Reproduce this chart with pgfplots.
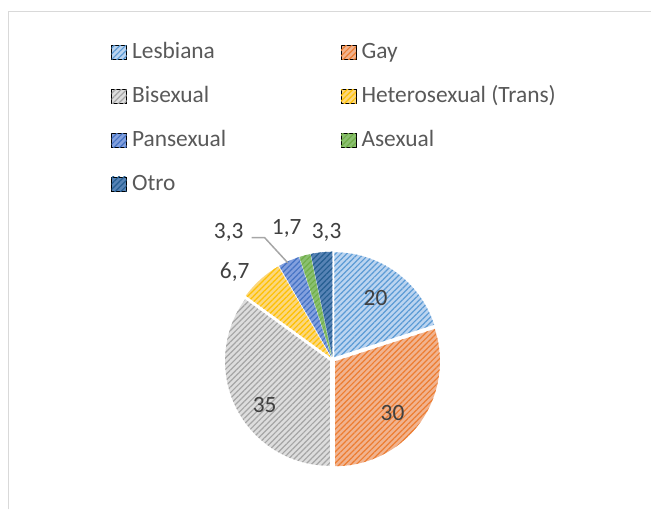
\documentclass[border=0pt]{standalone}
\usepackage{fontspec}
\setmainfont{Carlito}
\usepackage{pgfplots}
\usepackage{pgfplotstable}
\pgfplotsset{compat=1.18}
\usetikzlibrary{patterns.meta}

% light base and dark hatch colour of each slice
\definecolor{b0}{RGB}{187,212,240}\definecolor{d0}{RGB}{91,155,213}
\definecolor{b1}{RGB}{241,179,143}\definecolor{d1}{RGB}{237,125,49}
\definecolor{b2}{RGB}{221,221,221}\definecolor{d2}{RGB}{165,165,165}
\definecolor{b3}{RGB}{251,215,126}\definecolor{d3}{RGB}{255,192,0}
\definecolor{b4}{RGB}{131,160,222}\definecolor{d4}{RGB}{68,114,196}
\definecolor{b5}{RGB}{138,192,112}\definecolor{d5}{RGB}{112,173,71}
\definecolor{b6}{RGB}{87,131,181}\definecolor{d6}{RGB}{37,94,145}
\definecolor{lgray}{RGB}{89,89,89}
\definecolor{labgray}{RGB}{64,64,64}
\definecolor{framegray}{RGB}{217,217,217}
\definecolor{leader}{RGB}{166,166,166}

\tikzset{
  hatch/.style 2 args={preaction={fill=#1}, pattern={Lines[angle=45,distance=2pt,line width=0.6pt]}, pattern color=#2},
  slice0/.style={hatch={b0}{d0}}, slice1/.style={hatch={b1}{d1}},
  slice2/.style={hatch={b2}{d2}}, slice3/.style={hatch={b3}{d3}},
  slice4/.style={hatch={b4}{d4}}, slice5/.style={hatch={b5}{d5}},
  slice6/.style={hatch={b6}{d6}},
}

\pgfkeys{/pgf/number format/.cd, use comma, assume math mode=true}

% values in %, label positions in px (from top left)
\pgfplotstableread[col sep=comma]{
name,value,lx,ly
Lesbiana,20,376,298
Gay,30,393,413
Bisexual,35,265,405
Heterosexual (Trans),6.7,235,272
Pansexual,3.3,229,233
Asexual,1.7,287,229
Otro,3.3,327,233
}\piedata

\begin{document}
\begin{tikzpicture}
\begin{axis}[
  scale only axis, width=326pt, height=255pt,
  xmin=0, xmax=652, ymin=0, ymax=510,
  hide axis, clip=false,
  legend columns=2,
  legend cell align=left,
  legend image code/.code={\fill[#1, draw=none] (0pt,-3.6pt) rectangle (7.5pt,3.6pt);},
  legend style={at={(axis cs:111,470)}, anchor=north west, draw=none, fill=none,
    inner sep=0pt, column sep=2.5pt, row sep=10pt,
    font=\fontsize{11.7}{14}\selectfont, text=lgray,
    nodes={inner sep=0pt, text height=9pt, text depth=3pt}},
]
\path (axis cs:0,0) rectangle (axis cs:652,510);
\draw[framegray, line width=0.75pt] (axis cs:8.5,0) |- (axis cs:652,498.5);

\addlegendimage{slice0}\addlegendentry{\makebox[102pt][l]{Lesbiana}}
\addlegendimage{slice1}\addlegendentry{Gay}
\addlegendimage{slice2}\addlegendentry{\makebox[102pt][l]{Bisexual}}
\addlegendimage{slice3}\addlegendentry{Heterosexual (Trans)}
\addlegendimage{slice4}\addlegendentry{\makebox[102pt][l]{Pansexual}}
\addlegendimage{slice5}\addlegendentry{Asexual}
\addlegendimage{slice6}\addlegendentry{\makebox[102pt][l]{Otro}}

\pgfplotsextra{
  \coordinate (pc) at (axis cs:333,150);
  \def\angA{90}
  \pgfplotsforeachungrouped \i in {0,...,6}{%
    \pgfplotstablegetelem{\i}{value}\of\piedata
    \let\v\pgfplotsretval
    \pgfmathsetmacro\angB{\angA-3.6*\v}
    \pgfmathsetmacro\angM{(\angA+\angB)/2}
    \fill[slice\i] ([shift={(\angM:1.5pt)}]pc) -- ++(\angA:52.5pt)
      arc[start angle=\angA, end angle=\angB, radius=52.5pt] -- cycle;
    \pgfplotstablegetelem{\i}{lx}\of\piedata
    \let\lx\pgfplotsretval
    \pgfplotstablegetelem{\i}{ly}\of\piedata
    \pgfmathsetmacro\ly{510-\pgfplotsretval}
    \node[text=labgray, inner sep=0pt, font=\fontsize{11.7}{14}\selectfont]
      at (axis cs:\lx,\ly) {\pgfmathprintnumber{\v}};
    \let\angA\angB
  }
  % leader line for Pansexual
  \draw[leader, line width=0.75pt] (axis cs:252,272) -- (axis cs:265,272) -- (axis cs:288,247);
}
\end{axis}
\end{tikzpicture}
\end{document}
